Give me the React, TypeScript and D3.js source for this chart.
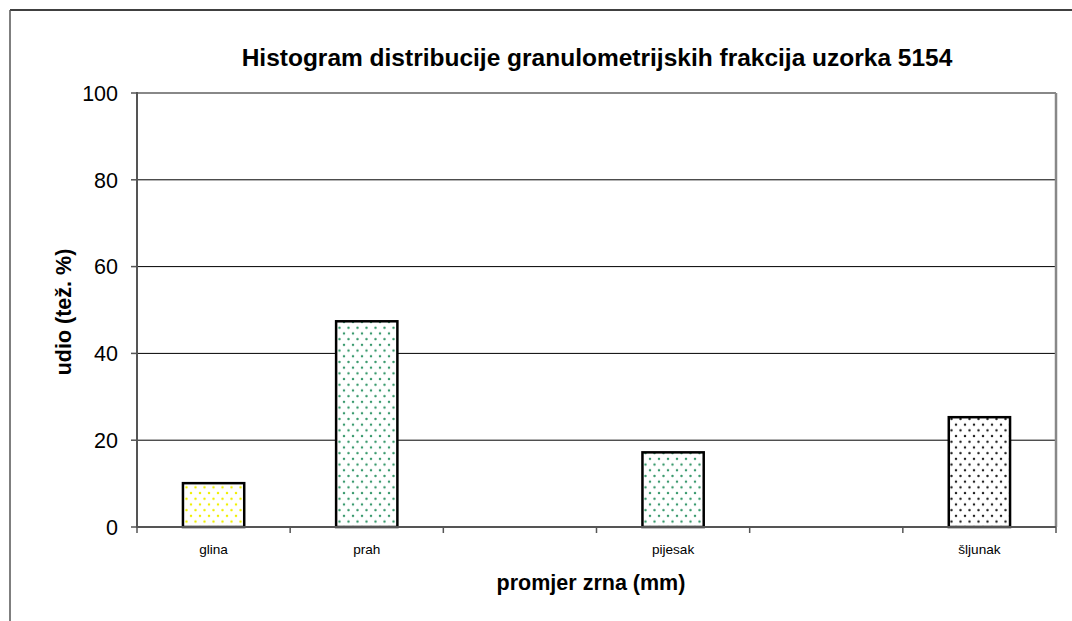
import React from 'react';
import * as d3 from 'd3';

const width = 1072;
const height = 621;
const margin = { top: 93, right: 16, bottom: 94, left: 137 };

const title = 'Histogram distribucije granulometrijskih frakcija uzorka 5154';
const xTitle = 'promjer zrna (mm)';
const yTitle = 'udio (tež. %)';

// six category slots, two of them empty like in the original sheet
const categories = ['glina', 'prah', '', 'pijesak', '', 'šljunak'];
const values = [10.1, 47.4, null, 17.2, null, 25.3];
const fills = ['dotsYellow', 'dotsGreen', null, 'dotsGreen', null, 'dotsGray'];
const yTicks = [0, 20, 40, 60, 80, 100];

const dotPatterns = [
  { id: 'dotsYellow', color: '#f0f000' },
  { id: 'dotsGreen', color: '#3a9a6e' },
  { id: 'dotsGray', color: '#222' }
];

const x = d3
  .scaleBand<number>()
  .domain(d3.range(categories.length))
  .range([margin.left, width - margin.right])
  .paddingInner(0)
  .paddingOuter(0);
const y = d3.scaleLinear().domain([0, 100]).range([height - margin.bottom, margin.top]);

const font = 'Arial, "Liberation Sans", sans-serif';

export default function App() {
  const bw = x.bandwidth();
  const barW = bw * 0.4;
  const x0 = margin.left;
  const x1 = width - margin.right;
  const y0 = y(0);
  const y1 = y(100);

  return (
    <svg
      width={width}
      height={height}
      style={{ position: 'absolute', left: 0, top: 0, background: '#fff' }}
      fontFamily={font}
    >
      <defs>
        {dotPatterns.map(p => (
          <pattern key={p.id} id={p.id} width={9} height={11.4} patternUnits="userSpaceOnUse">
            <rect width={9} height={11.4} fill="#fff" />
            <circle cx={2} cy={2.8} r={1.25} fill={p.color} />
            <circle cx={6.5} cy={8.5} r={1.25} fill={p.color} />
          </pattern>
        ))}
      </defs>

      {/* outer chart frame, runs off the page on the right and bottom */}
      <line x1={10} y1={10} x2={width + 5} y2={10} stroke="#000" strokeWidth={1.5} />
      <line x1={10} y1={10} x2={10} y2={height + 5} stroke="#555" strokeWidth={1.5} />

      <text x={597} y={66} textAnchor="middle" fontSize={24.5} fontWeight="bold">
        {title}
      </text>

      {/* grid */}
      {yTicks.slice(1, -1).map(t => (
        <line key={t} x1={x0} x2={x1} y1={y(t)} y2={y(t)} stroke="#000" strokeWidth={1} />
      ))}
      <line x1={x0} x2={x1} y1={y1} y2={y1} stroke="#888" strokeWidth={2} />
      <line x1={x1} x2={x1} y1={y1} y2={y0} stroke="#888" strokeWidth={2.5} />

      {/* bars */}
      {values.map((v, i) =>
        v == null ? null : (
          <rect
            key={i}
            x={(x(i) as number) + (bw - barW) / 2}
            y={y(v)}
            width={barW}
            height={y0 - y(v)}
            fill={`url(#${fills[i]})`}
            stroke="#000"
            strokeWidth={2.5}
          />
        )
      )}

      {/* y axis */}
      <line x1={x0} x2={x0} y1={y1 - 1} y2={y0 + 1} stroke="#555" strokeWidth={2} />
      {yTicks.map(t => (
        <g key={t}>
          <line x1={x0 - 6} x2={x0} y1={y(t)} y2={y(t)} stroke="#555" strokeWidth={1.5} />
          <text x={x0 - 19} y={y(t)} dy="0.36em" textAnchor="end" fontSize={21.5}>
            {t}
          </text>
        </g>
      ))}

      {/* x axis */}
      <line x1={x0} x2={x1} y1={y0} y2={y0} stroke="#555" strokeWidth={2} />
      {d3.range(categories.length + 1).map(i => {
        const tx = x0 + i * bw;
        return <line key={i} x1={tx} x2={tx} y1={y0} y2={y0 + 6} stroke="#555" strokeWidth={1.5} />;
      })}
      {categories.map((c, i) => (
        <text key={i} x={(x(i) as number) + bw / 2} y={y0 + 27} textAnchor="middle" fontSize={13.6}>
          {c}
        </text>
      ))}

      <text x={591} y={590} textAnchor="middle" fontSize={21.5} fontWeight="bold">
        {xTitle}
      </text>
      <text
        transform={`translate(71, ${(y0 + y1) / 2 + 2}) rotate(-90)`}
        textAnchor="middle"
        fontSize={21.5}
        fontWeight="bold"
      >
        {yTitle}
      </text>
    </svg>
  );
}
